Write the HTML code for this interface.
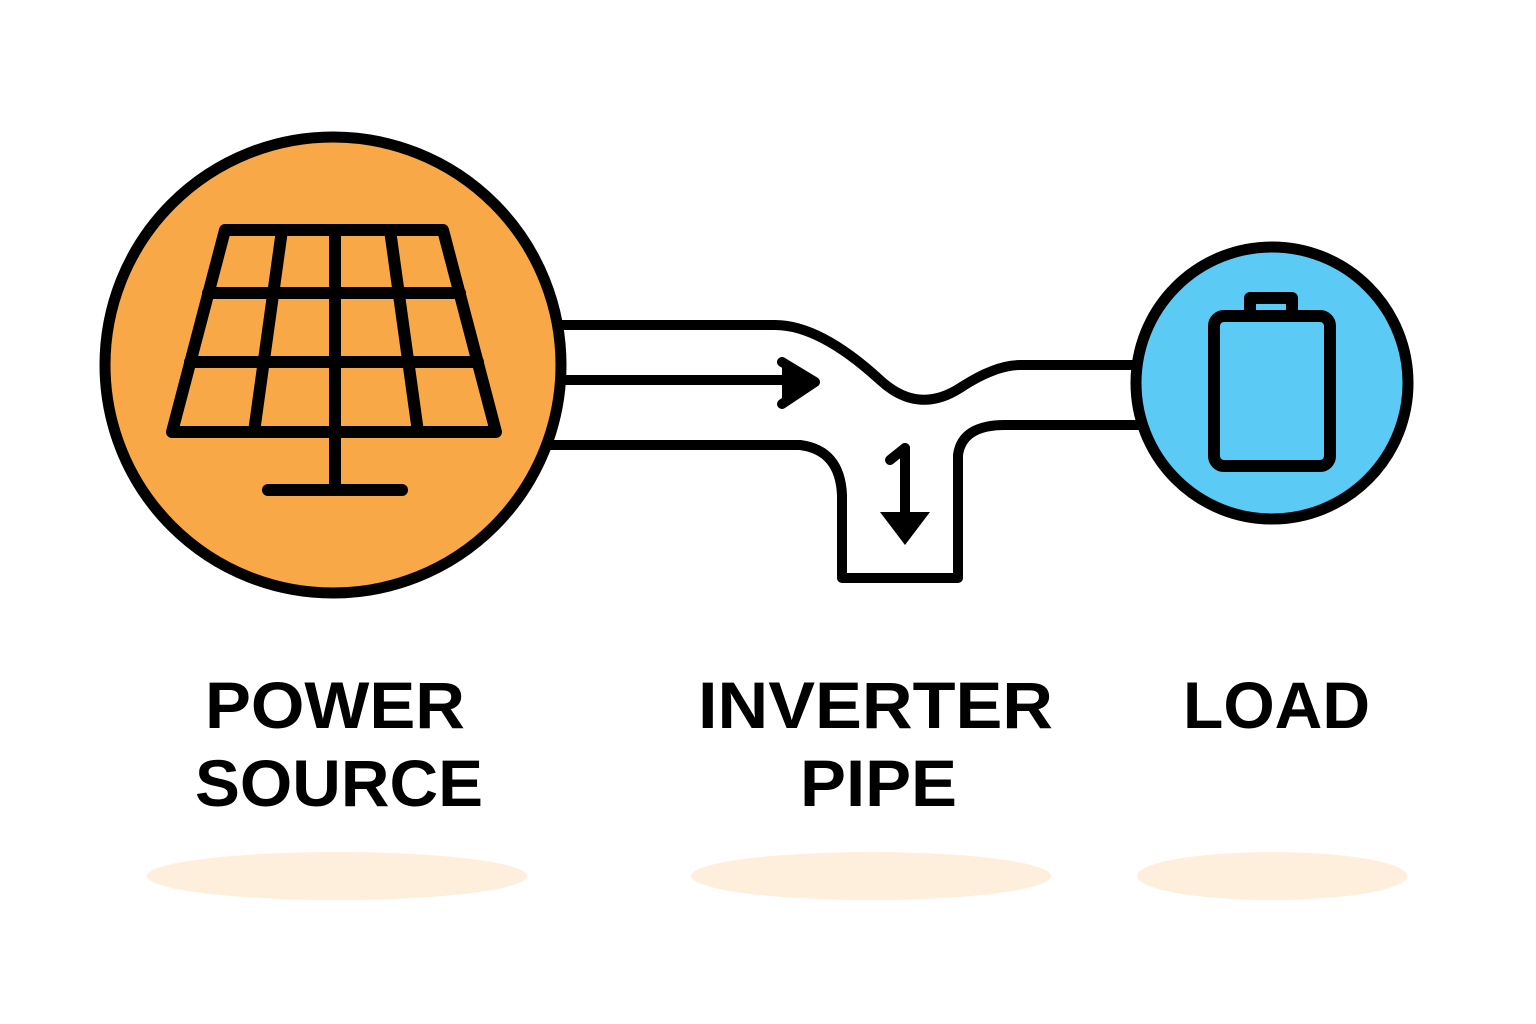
<!DOCTYPE html>
<html><head><meta charset="utf-8"><style>
html,body{margin:0;padding:0;background:#fff;width:1536px;height:1024px;overflow:hidden}
text{font-family:"Liberation Sans",sans-serif;font-weight:bold;font-size:66px;fill:#000}
</style></head><body>
<svg width="1536" height="1024" viewBox="0 0 1536 1024" xmlns="http://www.w3.org/2000/svg">
<ellipse cx="337" cy="876" rx="190" ry="24" fill="#FDEFDC"/>
<ellipse cx="871" cy="876" rx="180" ry="24" fill="#FDEFDC"/>
<ellipse cx="1272" cy="876" rx="135" ry="24" fill="#FDEFDC"/>
<g fill="none" stroke="#000" stroke-width="10" stroke-linejoin="round" stroke-linecap="round">
<path d="M555 325 L775 325 Q820 325 880 380 Q918 415 960 388 Q995 365 1020 365 L1140 365"/>
<path d="M550 445 L800 445 Q840 450 842 495 L842 578 L958 578 L958 455 Q962 425 1005 425 L1140 425"/>
<path d="M565 380 L785 380"/>
<path d="M782 362 L815 382 L782 404" fill="#000"/>
<path d="M905 448 L905 512"/>
<path d="M890 460 L905 448"/>
</g>
<path d="M880 512 L930 512 L905 545 Z" fill="#000"/>
<circle cx="333" cy="365" r="228" fill="#F9A847" stroke="#000" stroke-width="11"/>
<circle cx="1272" cy="383" r="136" fill="#5BCBF5" stroke="#000" stroke-width="11"/>
<g fill="none" stroke="#000" stroke-width="12" stroke-linejoin="round" stroke-linecap="round">
<path d="M225 230 L443 230 L496 432 L172 432 Z"/>
<path d="M208 293 L460 293"/>
<path d="M190 362 L478 362"/>
<path d="M282 230 L254 432"/>
<path d="M335 230 L335 490"/>
<path d="M390 230 L418 432"/>
<path d="M268 490 L402 490"/>
<rect x="1214" y="316" width="116" height="150" rx="10"/>
<path d="M1250 314 L1250 298 L1292 298 L1292 314"/>
</g>
<text x="205" y="728" textLength="260" lengthAdjust="spacingAndGlyphs">POWER</text>
<text x="195" y="806" textLength="288" lengthAdjust="spacingAndGlyphs">SOURCE</text>
<text x="698" y="728" textLength="355" lengthAdjust="spacingAndGlyphs">INVERTER</text>
<text x="800" y="806" textLength="157" lengthAdjust="spacingAndGlyphs">PIPE</text>
<text x="1183" y="728" textLength="187" lengthAdjust="spacingAndGlyphs">LOAD</text>
</svg>
</body></html>
